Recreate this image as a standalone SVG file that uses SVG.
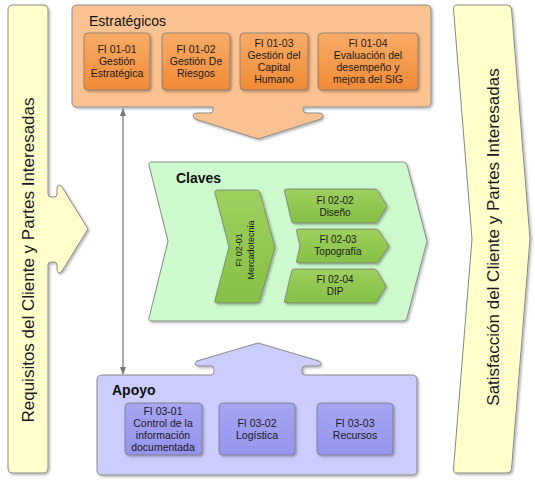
<svg xmlns="http://www.w3.org/2000/svg" width="535" height="481" viewBox="0 0 535 481">
<defs>
<filter id="sh" x="-10%" y="-10%" width="130%" height="130%">
<feDropShadow dx="1.5" dy="1.5" stdDeviation="1.2" flood-color="#000" flood-opacity="0.3"/>
</filter>
<linearGradient id="gOr" x1="0" y1="0" x2="0" y2="1">
<stop offset="0" stop-color="#F9AC68"/><stop offset="1" stop-color="#F08A36"/>
</linearGradient>
<linearGradient id="gGr" x1="0" y1="0" x2="0" y2="1">
<stop offset="0" stop-color="#9ED05E"/><stop offset="1" stop-color="#86C046"/>
</linearGradient>
<linearGradient id="gBl" x1="0" y1="0" x2="0" y2="1">
<stop offset="0" stop-color="#A6A6F4"/><stop offset="1" stop-color="#9494EC"/>
</linearGradient>
<marker id="ah" viewBox="0 0 10 10" refX="9" refY="5" markerWidth="6" markerHeight="6" orient="auto-start-reverse">
<path d="M0,1 L10,5 L0,9 Z" fill="#7a7a7a"/>
</marker>
</defs>
<style>
.band{fill:#FFFFCC;stroke:#8a8a8a;stroke-width:1;filter:url(#sh)}
.outer{stroke:#8a8a8a;stroke-width:1;filter:url(#sh)}
.inner{stroke:#7a7a7a;stroke-width:0.8;filter:url(#sh)}
.t{font-family:"Liberation Sans",Arial,sans-serif;fill:#1a1a1a;text-anchor:middle}
.s{font-size:10.5px}
.g{font-size:10px}
.title{font-family:"Liberation Sans",Arial,sans-serif;font-size:14px;fill:#111}
.big{font-family:"Liberation Sans",Arial,sans-serif;font-size:17px;fill:#1a1a1a;text-anchor:middle}
</style>

<g id="requisitos">
<path class="band" d="M13,5 H43 Q48,5 48,10 V194 Q48,197 51,197 H54 Q57,197 57,194 V190 Q57,182 62,187 L88,229 L62,271 Q57,276 57,268 V265 Q57,262 54,262 H51 Q48,262 48,265 V468 Q48,473 43,473 H13 Q8,473 8,468 V10 Q8,5 13,5 Z"/>
<text class="big" transform="translate(34,260) rotate(-90)">Requisitos del Cliente y Partes Interesadas</text>
</g>

<g id="satisfaccion">
<path class="band" d="M457,5 H507 Q511,5 511.5,9 L530,239 L511.5,469 Q511,473 507,473 H457 Q453,473 453.5,469 L472,239 L453.5,9 Q453,5 457,5 Z"/>
<text class="big" transform="translate(499,237) rotate(-90)">Satisfacción del Cliente y Partes Interesadas</text>
</g>

<g id="estrategicos">
<path class="outer" fill="#FBC291" d="M77,5 H426 Q431,5 431,10 V102 Q431,107 426,107 H303 V110 Q303,113 306,113 H318 Q326,113 321,119 L258,139 L195,119 Q190,113 198,113 H210 Q213,113 213,110 V107 H77 Q72,107 72,102 V10 Q72,5 77,5 Z"/>
<text class="title" x="89" y="26">Estratégicos</text>
</g>
<g id="fi0101">
<rect class="inner" x="84" y="33" width="66" height="57" rx="4" fill="url(#gOr)"/>
<text class="t s"><tspan x="117" y="53">FI 01-01</tspan><tspan x="117" y="65">Gestión</tspan><tspan x="117" y="77">Estratégica</tspan></text>
</g>
<g id="fi0102">
<rect class="inner" x="162" y="33" width="68" height="57" rx="4" fill="url(#gOr)"/>
<text class="t s"><tspan x="196" y="53">FI 01-02</tspan><tspan x="196" y="65">Gestión De</tspan><tspan x="196" y="77">Riesgos</tspan></text>
</g>
<g id="fi0103">
<rect class="inner" x="240" y="33" width="68" height="57" rx="4" fill="url(#gOr)"/>
<text class="t s"><tspan x="274" y="47">FI 01-03</tspan><tspan x="274" y="59">Gestión del</tspan><tspan x="274" y="71">Capital</tspan><tspan x="274" y="83">Humano</tspan></text>
</g>
<g id="fi0104">
<rect class="inner" x="318" y="33" width="100" height="57" rx="4" fill="url(#gOr)"/>
<text class="t s"><tspan x="368" y="47">FI 01-04</tspan><tspan x="368" y="59">Evaluación del</tspan><tspan x="368" y="71">desempeño y</tspan><tspan x="368" y="83">mejora del SIG</tspan></text>
</g>

<g id="claves">
<path class="outer" fill="#CCFACC" d="M152,162 H403 Q406,162 407,165 L427,241 L407,318 Q406,321 403,321 H152 Q148,321 149,318 L168,241 L149,165 Q148,162 152,162 Z"/>
<text class="title" x="176" y="183" font-weight="bold">Claves</text>
</g>
<g id="fi0201">
<path class="inner" fill="url(#gGr)" d="M218,190 H256 Q259,190 260,193 L275,247 L260,300 Q259,303 256,303 H218 Q214,303 215,300 L229,247 L215,193 Q214,190 218,190 Z"/>
<text class="t" font-size="9px" transform="translate(242,250) rotate(-90)">FI 02-01</text>
<text class="t" font-size="9px" transform="translate(254,250) rotate(-90)">Mercadotecnia</text>
</g>
<g id="fi0202">
<path class="inner" fill="url(#gGr)" d="M287,189 H375 Q377,189 378,191 L387,206 L378,221 Q377,223 375,223 H294 Q292,223 291.5,221 L284.5,191 Q284,189 287,189 Z"/>
<text class="t g"><tspan x="335" y="204">FI 02-02</tspan><tspan x="335" y="216">Diseño</tspan></text>
</g>
<g id="fi0203">
<path class="inner" fill="url(#gGr)" d="M299,229 H376 Q378,229 379,231 L389,246 L379,261 Q378,263 376,263 H299 Q296,263 296.5,261 L300,246 L296.5,231 Q296,229 299,229 Z"/>
<text class="t g"><tspan x="338" y="243">FI 02-03</tspan><tspan x="338" y="255">Topografía</tspan></text>
</g>
<g id="fi0204">
<path class="inner" fill="url(#gGr)" d="M295,269 H374 Q376,269 377,271 L386,286 L377,301 Q376,303 374,303 H287 Q284,303 284.5,301 L291.5,271 Q292,269 295,269 Z"/>
<text class="t g"><tspan x="335" y="283">FI 02-04</tspan><tspan x="335" y="295">DIP</tspan></text>
</g>

<g id="apoyo">
<path class="outer" fill="#CCCCFF" d="M102,375 H211 Q214,375 214,372 V369 Q214,366 211,366 H200 Q192,366 197,361 L258,343 L319,361 Q324,366 316,366 H305 Q302,366 302,369 V372 Q302,375 305,375 H412 Q417,375 417,380 V470 Q417,475 412,475 H102 Q97,475 97,470 V380 Q97,375 102,375 Z"/>
<text class="title" x="112" y="395" font-weight="bold">Apoyo</text>
</g>
<g id="fi0301">
<rect class="inner" x="125" y="403" width="77" height="52" rx="4" fill="url(#gBl)"/>
<text class="t s"><tspan x="163" y="415">FI 03-01</tspan><tspan x="163" y="427">Control de la</tspan><tspan x="163" y="439">información</tspan><tspan x="163" y="451">documentada</tspan></text>
</g>
<g id="fi0302">
<rect class="inner" x="219" y="403" width="76" height="52" rx="4" fill="url(#gBl)"/>
<text class="t s"><tspan x="257" y="427">FI 03-02</tspan><tspan x="257" y="439">Logística</tspan></text>
</g>
<g id="fi0303">
<rect class="inner" x="317" y="403" width="76" height="52" rx="4" fill="url(#gBl)"/>
<text class="t s"><tspan x="355" y="427">FI 03-03</tspan><tspan x="355" y="439">Recursos</tspan></text>
</g>

<g id="connectors">
<line x1="123" y1="109" x2="123" y2="374" stroke="#7a7a7a" stroke-width="1.3" marker-start="url(#ah)" marker-end="url(#ah)"/>
</g>
</svg>
